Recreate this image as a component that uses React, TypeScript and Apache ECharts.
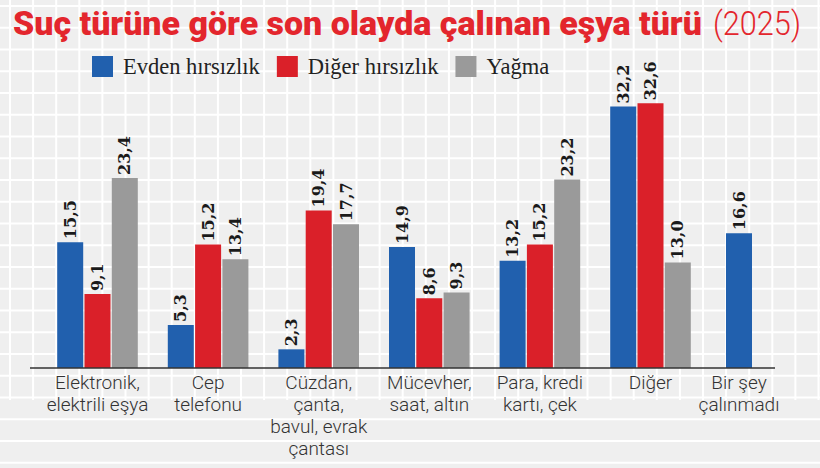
import React, { useEffect, useRef } from "react";
import * as echarts from "echarts";

const categories = [
  "Elektronik,\nelektrili eşya",
  "Cep\ntelefonu",
  "Cüzdan,\nçanta,\nbavul, evrak\nçantası",
  "Mücevher,\nsaat, altın",
  "Para, kredi\nkartı, çek",
  "Diğer",
  "Bir şey\nçalınmadı",
];
const seriesNames = ["Evden hırsızlık", "Diğer hırsızlık", "Yağma"];
const evden = [15.5, 5.3, 2.3, 14.9, 13.2, 32.2, 16.6];
const diger = [9.1, 15.2, 19.4, 8.6, 15.2, 32.6, null];
const yagma = [23.4, 13.4, 17.7, 9.3, 23.2, 13.0, null];
const colors = ["#2160ae", "#da2029", "#9a9a9a"];
const titleMain = "Suç türüne göre son olayda çalınan eşya türü";
const titleYear = "(2025)";

export default function App() {
  const ref = useRef<HTMLDivElement>(null);
  useEffect(() => {
    document.body.style.margin = "0";
    const chart = echarts.init(ref.current!, null, { renderer: "svg" });

    const bg: any[] = [];
    bg.push({ type: "rect", shape: { x: 0, y: 0, width: 820, height: 468 }, style: { fill: "#efefef" }, z: -10 });
    for (let i = 0; i < 22; i++) {
      const y = 6 + 21.75 * i;
      bg.push({ type: "line", shape: { x1: 0, y1: y, x2: 820, y2: y }, style: { stroke: "#ffffff", lineWidth: 2 }, z: -9 });
    }
    for (let i = 0; i < 36; i++) {
      const x = 10 + 23.1 * i;
      bg.push({ type: "line", shape: { x1: x, y1: 0, x2: x, y2: 400 }, style: { stroke: "#ffffff", lineWidth: 2 }, z: -9 });
    }
    bg.push({ type: "line", shape: { x1: 30, y1: 368, x2: 775, y2: 368 }, style: { stroke: "#333333", lineWidth: 1.5 }, z: 10 });
    bg.push({
      type: "text",
      x: 13,
      y: 7,
      scaleX: 1.029,
      style: { text: titleMain, fontFamily: "Roboto", fontWeight: 900, fontSize: 33, fill: "#e3262d" },
      z: 10,
    });
    bg.push({
      type: "text",
      x: 713,
      y: 7,
      scaleX: 0.93,
      style: { text: titleYear, fontFamily: "Roboto", fontWeight: 300, fontSize: 33, fill: "#e3262d" },
      z: 10,
    });

    const n = categories.length - 1;
    const mainCats = categories.slice(0, n);
    const lastCat = categories.slice(n);
    const datas = [evden, diger, yagma];
    const labelOpt = {
      show: true,
      position: "top",
      rotate: 90,
      align: "left",
      verticalAlign: "middle",
      distance: 3,
      fontFamily: "DejaVu Serif",
      fontWeight: "bold",
      fontSize: 16,
      color: "#1a1a1a",
      formatter: (p: any) => (p.value == null ? "" : Number(p.value).toFixed(1).replace(".", ",")),
    };
    const axisLabel = {
      interval: 0,
      margin: 3,
      fontFamily: "Roboto",
      fontWeight: 300,
      fontSize: 19,
      lineHeight: 22,
      color: "#333",
    };

    const series: any[] = seriesNames.map((nm, i) => ({
      name: nm,
      type: "bar",
      xAxisIndex: 0,
      yAxisIndex: 0,
      data: datas[i].slice(0, n),
      barWidth: 26,
      barGap: "5%",
      itemStyle: { color: colors[i] },
      label: labelOpt,
    }));
    series.push({
      name: seriesNames[0],
      type: "bar",
      xAxisIndex: 1,
      yAxisIndex: 1,
      data: evden.slice(n),
      barWidth: 26,
      itemStyle: { color: colors[0] },
      label: labelOpt,
    });

    chart.setOption({
      animation: false,
      graphic: bg,
      legend: {
        left: 87,
        top: 50,
        icon: "rect",
        itemWidth: 21,
        itemHeight: 21,
        itemGap: 17,
        textStyle: { fontFamily: "Liberation Serif", fontSize: 22.5, color: "#222", padding: [0, 0, 0, 5] },
        data: seriesNames,
      },
      grid: [
        { left: 42.2, right: 114.2, top: 43.2, bottom: 100 },
        { left: 694, right: 36, top: 43.2, bottom: 100 },
      ],
      xAxis: [
        { type: "category", gridIndex: 0, data: mainCats, axisLine: { show: false }, axisTick: { show: false }, axisLabel },
        { type: "category", gridIndex: 1, data: lastCat, axisLine: { show: false }, axisTick: { show: false }, axisLabel },
      ],
      yAxis: [
        { type: "value", gridIndex: 0, min: 0, max: 40, show: false, splitLine: { show: false } },
        { type: "value", gridIndex: 1, min: 0, max: 40, show: false, splitLine: { show: false } },
      ],
      series,
    });
    return () => chart.dispose();
  }, []);
  return <div ref={ref} style={{ width: 820, height: 468 }} />;
}
